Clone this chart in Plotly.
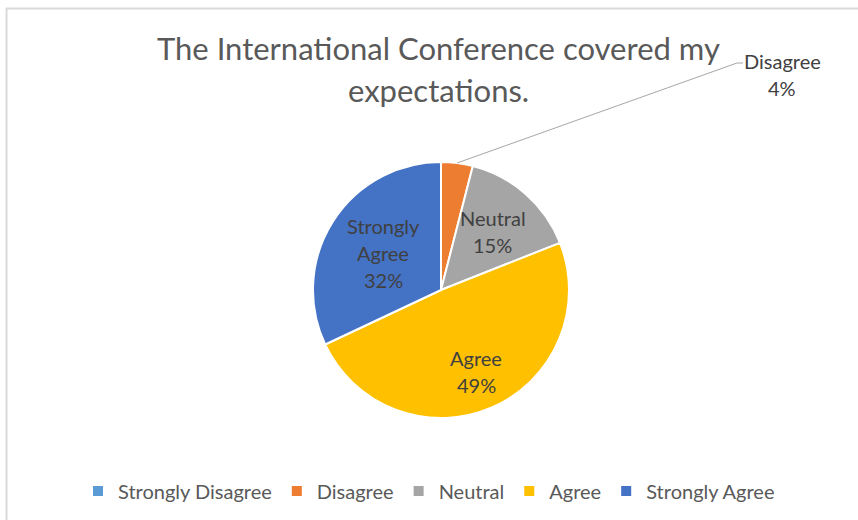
import math
import plotly.graph_objects as go

# Survey responses
categories = ["Strongly Disagree", "Disagree", "Neutral", "Agree", "Strongly Agree"]
shares = [0, 4, 15, 49, 32]
label_lines = [[], ["Disagree"], ["Neutral"], ["Agree"], ["Strongly", "Agree"]]
colors = ["#5B9BD5", "#ED7D31", "#A5A5A5", "#FFC000", "#4472C4"]
title_lines = ["The International Conference covered my", "expectations."]

W, H = 858, 520
CX, CY, R = 441, 290, 128          # pie centre / radius in pixels
label_radius = [0, 0, 0.61, 0.69, 0.535]
FONT = "Lato"
LINE = 27                           # label line spacing, px


def px(x):
    return x / W


def py(y):
    return 1 - y / H


fig = go.Figure(
    go.Pie(
        labels=categories,
        values=shares,
        textinfo="none",
        sort=False,
        direction="clockwise",
        rotation=0,
        marker=dict(colors=colors, line=dict(color="white", width=2)),
        domain=dict(x=[px(CX - R), px(CX + R)], y=[py(CY + R), py(CY - R)]),
        hoverinfo="label+percent",
    )
)

total = sum(shares)
label_font = dict(family=FONT, size=20, color="#404040")


def text_block(lines, cx, cy):
    n = len(lines)
    for i, s in enumerate(lines):
        yy = cy + (i - (n - 1) / 2) * LINE
        fig.add_annotation(x=px(cx), y=py(yy), xref="paper", yref="paper",
                           text=s, showarrow=False, xanchor="center", yanchor="middle",
                           font=label_font)


# in-slice labels
cum = 0
for i, v in enumerate(shares):
    mid = (cum + v / 2) / total * 2 * math.pi
    cum += v
    pct = f"{round(v / total * 100)}%"
    if i == 1:
        # small slice: leader line to an outside callout
        hx = CX + R * math.sin(mid)
        hy = CY - R * math.cos(mid)
        fig.add_shape(type="path", xref="paper", yref="paper",
                      path=f"M {px(hx)} {py(hy)} L {px(737)} {py(63)} L {px(743)} {py(63)}",
                      line=dict(color="#A6A6A6", width=1))
        text_block(label_lines[i] + [pct], 782, 74)
    elif v > 0:
        r = label_radius[i] * R
        text_block(label_lines[i] + [pct], CX + r * math.sin(mid), CY - r * math.cos(mid))

# title
for i, s in enumerate(title_lines):
    fig.add_annotation(x=px(438), y=py(48 + 42 * i), xref="paper", yref="paper",
                       text=s, showarrow=False, xanchor="center", yanchor="middle",
                       font=dict(family=FONT, size=31, color="#595959"))

# chart frame (left and top edges)
fig.add_shape(type="line", xref="paper", yref="paper", x0=px(6.5), x1=px(6.5), y0=0, y1=py(8),
              line=dict(color="#D9D9D9", width=2))
fig.add_shape(type="line", xref="paper", yref="paper", x0=px(6), x1=1, y0=py(8.5), y1=py(8.5),
              line=dict(color="#D9D9D9", width=2))

fig.update_layout(
    width=W, height=H,
    margin=dict(l=0, r=0, t=0, b=0),
    paper_bgcolor="white",
    plot_bgcolor="white",
    showlegend=True,
    legend=dict(
        orientation="h", x=0.5, xanchor="center", y=py(491), yanchor="middle",
        font=dict(family=FONT, size=20, color="#595959"),
        traceorder="normal",
    ),
)

fig.write_html("out.html")
